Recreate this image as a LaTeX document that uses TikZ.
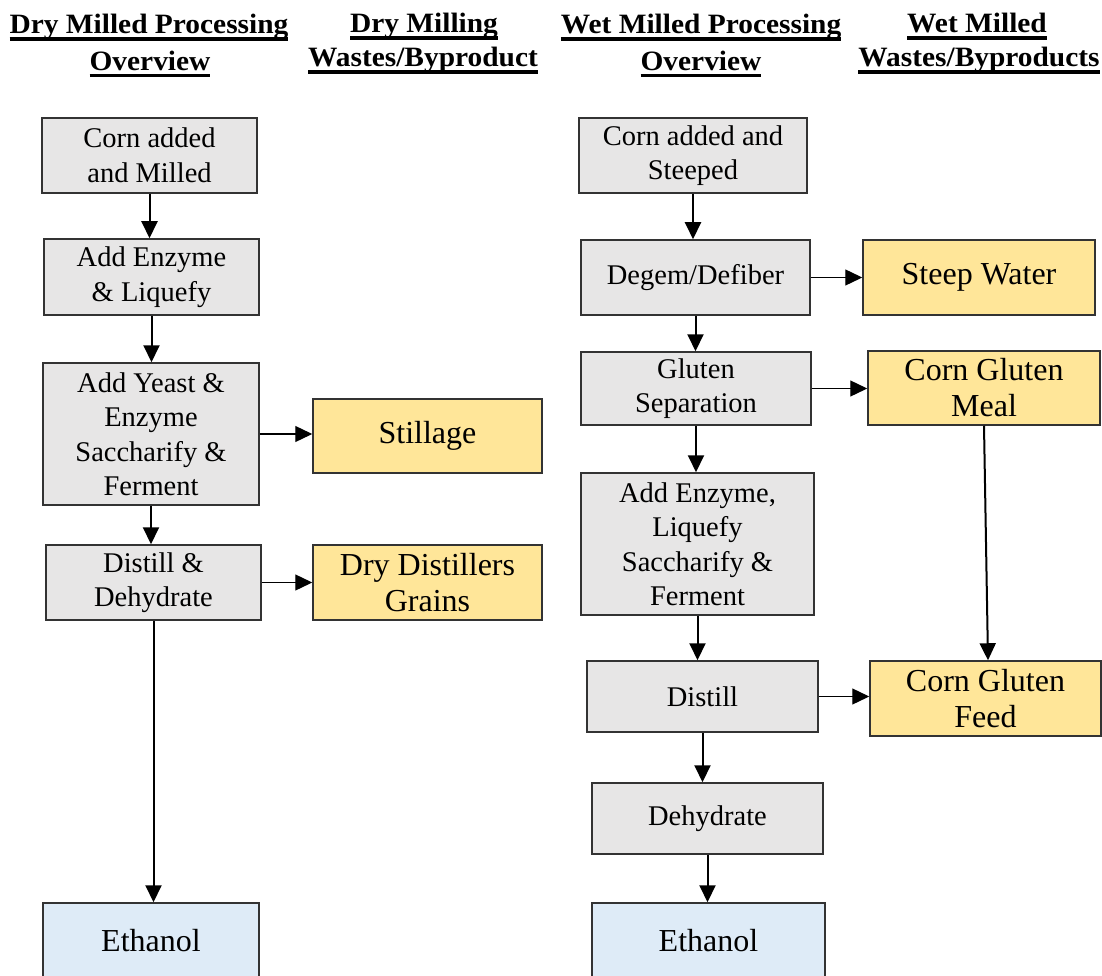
\documentclass[tikz,border=0pt]{standalone}
\usepackage{fontspec}
\setmainfont{Liberation Serif}
\newfontfamily\headfont{Liberation Serif}[FakeStretch=1.05]
\usetikzlibrary{arrows.meta}
\definecolor{boxgray}{HTML}{E7E6E6}
\definecolor{boxgold}{HTML}{FFE699}
\definecolor{boxblue}{HTML}{DEEBF7}
\definecolor{edgecol}{HTML}{333333}
% heavy underline for column headings
\newcommand\hul[1]{\setbox0\hbox{#1}\rlap{\vrule height -3.5pt depth 7pt width \wd0}\box0}
\tikzset{
  proc/.style={draw=edgecol, line width=1.5pt, fill=boxgray, align=center, inner sep=0pt,
               font=\fontsize{28.5}{34.5}\selectfont},
  byprod/.style={proc, fill=boxgold, font=\fontsize{32}{36}\selectfont},
  product/.style={byprod, fill=boxblue},
  sz/.style 2 args={minimum width=#1pt, minimum height=#2pt},
  head/.style={anchor=base, inner sep=0pt, font=\headfont\bfseries\fontsize{28}{34}\selectfont},
  flow/.style={line width=2pt, -{Triangle[length=17pt,width=16pt]}},
  side/.style={flow, line width=1.3pt},
}
\begin{document}
\begin{tikzpicture}[x=1pt,y=-1pt]
\useasboundingbox (0,0) rectangle (1102,976);

% column headings
\node[head] (h1a) at (149,34)   {\hul{Dry Milled Processing}};
\node[head] (h1b) at (150,70.5) {\hul{Overview}};
\node[head] (h2a) at (424,33)   {\hul{Dry Milling}};
\node[head] (h2b) at (423,67)   {\hul{Wastes/Byproduct}};
\node[head] (h3a) at (701,34)   {\hul{Wet Milled Processing}};
\node[head] (h3b) at (701,70.5) {\hul{Overview}};
\node[head] (h4a) at (977,33)   {\hul{Wet Milled}};
\node[head] (h4b) at (979,67)   {\hul{Wastes/Byproducts}};

% dry milling process
\node[proc, sz={215}{75}]  (dc)   at (149.5,155.5) {Corn added\\and Milled};
\node[proc, sz={215}{76}]  (de)   at (151.5,277)   {Add Enzyme\\\& Liquefy};
\node[proc, sz={216}{142}] (dy)   at (151,434)     {Add Yeast \&\\Enzyme\\Saccharify \&\\Ferment};
\node[proc, sz={215}{75}]  (dd)   at (153.5,582.5) {Distill \&\\Dehydrate};
\node[product, sz={216}{75}] (deth) at (151,940.5) {Ethanol};
\node[byprod, sz={229}{74}] (ds)  at (427.5,436)   {Stillage};
\node[byprod, sz={229}{75}] (dg)  at (427.5,582.5) {Dry Distillers\\Grains};

\draw[flow] (dc.south) -- (dc.south |- de.north);
\draw[flow] (de.south) -- (de.south |- dy.north);
\draw[flow] (dy.south) -- (dy.south |- dd.north);
\draw[flow] (dd.south) -- (dd.south |- deth.north);
\draw[side] (dy.east) -- (dy.east -| ds.west);
\draw[side] (dd.east) -- (dd.east -| dg.west);

% wet milling process
\node[proc, sz={228}{75}]  (wc)  at (693,155.5)   {Corn added and\\Steeped};
\node[proc, sz={229}{75}]  (wd)  at (695.5,277.5) {Degem/Defiber};
\node[proc, sz={230}{73}]  (wg)  at (696,388.5)   {Gluten\\Separation};
\node[proc, sz={233}{142}] (wa)  at (697.5,544)   {Add Enzyme,\\Liquefy\\Saccharify \&\\Ferment};
\node[proc, sz={231}{71}]  (wdi) at (702.5,696.5) {Distill};
\node[proc, sz={231}{71}]  (wdh) at (707.5,818.5) {Dehydrate};
\node[product, sz={233}{75}] (weth) at (708.5,940.5) {Ethanol};
\node[byprod, sz={232}{75}] (wsw)  at (979,277.5)  {Steep Water};
\node[byprod, sz={232}{74}] (wcgm) at (984,388)    {Corn Gluten\\Meal};
\node[byprod, sz={231}{75}] (wcgf) at (985.5,698.5) {Corn Gluten\\Feed};

\draw[flow] (wc.south) -- (wc.south |- wd.north);
\draw[flow] (wd.south) -- (wd.south |- wg.north);
\draw[flow] (wg.south) -- (wg.south |- wa.north);
\draw[flow] (wa.south) -- (wa.south |- wdi.north);
\draw[flow] (wdi.south) -- (wdi.south |- wdh.north);
\draw[flow] (wdh.south) -- (wdh.south |- weth.north);
\draw[side] (wd.east) -- (wd.east -| wsw.west);
\draw[side] (wg.east) -- (wg.east -| wcgm.west);
\draw[side] (wdi.east) -- (wdi.east -| wcgf.west);
\draw[flow] (wcgm.south) -- ([xshift=2.5pt]wcgf.north);
\end{tikzpicture}
\end{document}
